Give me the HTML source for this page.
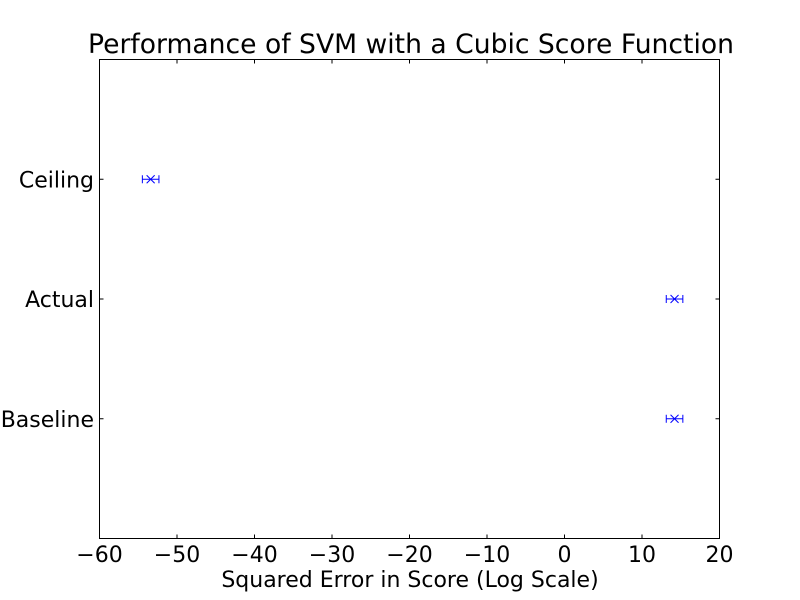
<!DOCTYPE html>
<html><head><meta charset="utf-8"><style>
body{margin:0;background:#fff;}
svg{display:block;font-family:"DejaVu Sans","Liberation Sans",sans-serif;}
</style></head><body>
<svg id="c" width="800" height="600"></svg>
<script>
const categories=["Baseline","Actual","Ceiling"];
const values=[14.2,14.2,-53.4];
const errors=[1.07,1.07,1.07];
const xTicks=[-60,-50,-40,-30,-20,-10,0,10,20];
const NS="http://www.w3.org/2000/svg";
const svg=document.getElementById('c');
const L=99.5,R=719.5,T=59.5,B=538.5;
const xs=v=>L+(v+60)/80*(R-L);
const ys=v=>B-v/4*(B-T);
function mk(tag,at,parent){const e=document.createElementNS(NS,tag);for(const k in at)e.setAttribute(k,at[k]);(parent||svg).appendChild(e);return e;}
const title=mk('text',{x:411,y:53,'text-anchor':'middle','font-size':26.6});
title.textContent="Performance of SVM with a Cubic Score Function";


const frame=mk('rect',{x:L,y:T,width:R-L,height:B-T,fill:'none',stroke:'#000','stroke-width':1});


xTicks.forEach(t=>{
 const x=xs(t);
 const tk=mk('path',{d:`M${x},${B}v-4M${x},${T}v4`,stroke:'#000'});
 
 
 const lb=mk('text',{x:x,y:562,'text-anchor':'middle','font-size':22});
 lb.textContent=t<0?'\u2212'+(-t):String(t);
 
 
});
categories.forEach((c,i)=>{
 const y=ys(i+1);
 const tk=mk('path',{d:`M${L},${y}h4M${R},${y}h-4`,stroke:'#000'});
 
 
 const lb=mk('text',{x:94,y:y+8,'text-anchor':'end','font-size':22});
 lb.textContent=c;
 
 
 const g=mk('g',{stroke:'#0000ff','stroke-width':1,fill:'none'});
 
 
 const x0=xs(values[i]-errors[i]),x1=xs(values[i]+errors[i]),xc=xs(values[i]);
 mk('path',{d:`M${x0},${y}H${x1}M${x0},${y-4}v8M${x1},${y-4}v8`},g);
 mk('path',{d:`M${xc-4},${y-4}l8,8M${xc-4},${y+4}l8,-8`},g);
});
const xl=mk('text',{x:410,y:587,'text-anchor':'middle','font-size':22});
xl.textContent="Squared Error in Score (Log Scale)";


</script>
</body></html>
